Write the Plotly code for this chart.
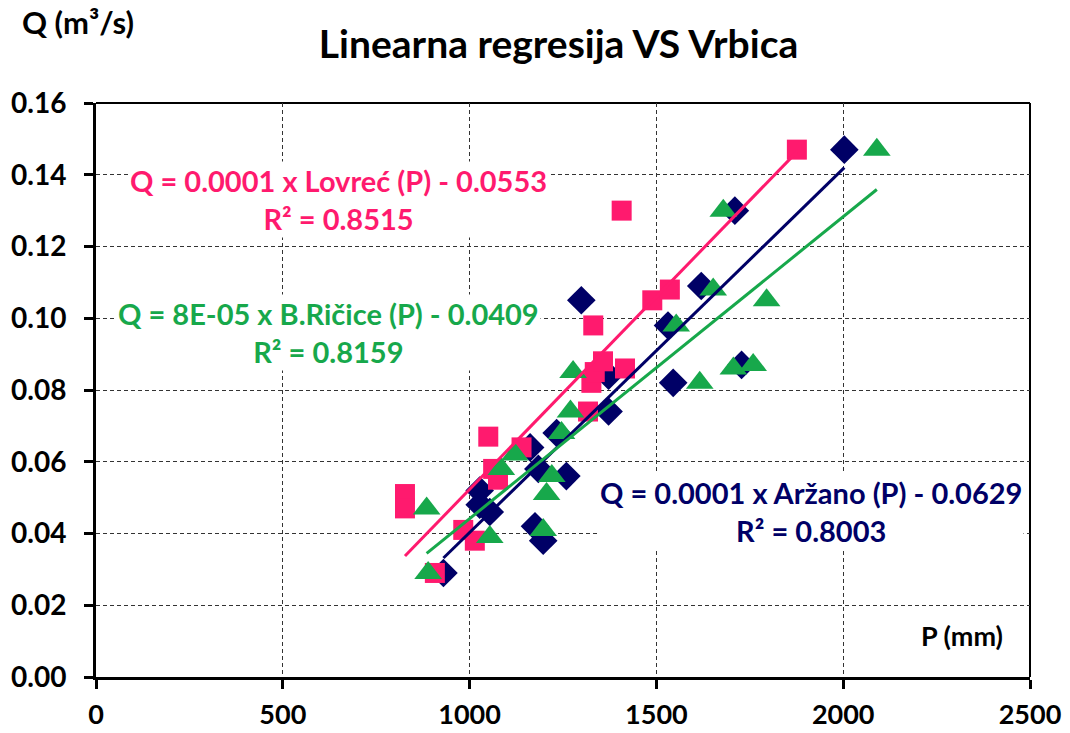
import numpy as np
import plotly.graph_objects as go

# Lovreć (pink squares)
lovrec_p = [827, 827, 907, 983, 1014, 1050, 1063, 1076, 1139, 1317, 1326, 1335, 1331, 1357, 1416, 1407, 1489, 1536, 1876]
lovrec_q = [0.051, 0.047, 0.029, 0.041, 0.038, 0.067, 0.058, 0.055, 0.064, 0.074, 0.082, 0.085, 0.098, 0.088, 0.086, 0.130, 0.105, 0.108, 0.147]
# Aržano (navy diamonds)
arzano_p = [930, 1027, 1027, 1054, 1162, 1175, 1197, 1184, 1233, 1259, 1299, 1372, 1372, 1531, 1545, 1620, 1710, 1728, 2003]
arzano_q = [0.029, 0.052, 0.048, 0.046, 0.064, 0.042, 0.038, 0.058, 0.068, 0.056, 0.105, 0.084, 0.074, 0.098, 0.082, 0.109, 0.130, 0.087, 0.147]
# B.Ričice (green triangles)
ricice_p = [889, 885, 1054, 1085, 1121, 1197, 1206, 1220, 1246, 1270, 1277, 1553, 1616, 1652, 1679, 1706, 1759, 1795, 2090]
ricice_q = [0.029, 0.047, 0.039, 0.058, 0.062, 0.041, 0.051, 0.056, 0.068, 0.074, 0.085, 0.098, 0.082, 0.108, 0.130, 0.086, 0.087, 0.105, 0.147]

x_ticks = [0, 500, 1000, 1500, 2000, 2500]
y_ticks = [0.00, 0.02, 0.04, 0.06, 0.08, 0.10, 0.12, 0.14, 0.16]

PINK = "#FF1A6E"
NAVY = "#000066"
GREEN = "#17A84B"
FONT = "Lato"

fig = go.Figure()

# markers: navy bottom, pink, green on top
fig.add_trace(go.Scatter(x=arzano_p, y=arzano_q, mode="markers",
                         marker=dict(symbol="diamond", size=22, color=NAVY, line=dict(width=0)), showlegend=False))
fig.add_trace(go.Scatter(x=lovrec_p, y=lovrec_q, mode="markers",
                         marker=dict(symbol="square", size=20, color=PINK, line=dict(width=0)), showlegend=False))
fig.add_trace(go.Scatter(x=ricice_p, y=ricice_q, mode="markers",
                         marker=dict(symbol="triangle-up", size=24, color=GREEN, line=dict(width=0)), showlegend=False))

# trendlines (least squares fits)
for px, qy, col in [(arzano_p, arzano_q, NAVY), (ricice_p, ricice_q, GREEN), (lovrec_p, lovrec_q, PINK)]:
    m, b = np.polyfit(px, qy, 1)
    xs = np.array([min(px), max(px)])
    fig.add_trace(go.Scatter(x=xs, y=m * xs + b, mode="lines",
                             line=dict(color=col, width=3), showlegend=False, hoverinfo="skip"))

fig.add_annotation(x=648, y=0.133, xref="x", yref="y", showarrow=False,
                   text="<b>Q = 0.0001 x Lovreć (P) - 0.0553<br>R² = 0.8515</b>",
                   font=dict(family=FONT, size=29, color=PINK), bgcolor="white", align="center")
fig.add_annotation(x=621, y=0.0959, xref="x", yref="y", showarrow=False,
                   text="<b>Q = 8E-05 x B.Ričice (P) - 0.0409<br>R² = 0.8159</b>",
                   font=dict(family=FONT, size=29, color=GREEN), bgcolor="white", align="center")
fig.add_annotation(x=1913, y=0.046, xref="x", yref="y", showarrow=False,
                   text="<b>Q = 0.0001 x Aržano (P) - 0.0629<br>R² = 0.8003</b>",
                   font=dict(family=FONT, size=29, color=NAVY), bgcolor="white", align="center")

# axis titles
fig.add_annotation(x=-76 / 934, y=1 + 81 / 574, xref="paper", yref="paper", showarrow=False,
                   text="<b>Q (m³/s)</b>", font=dict(family=FONT, size=31, color="black"),
                   xanchor="left", yanchor="middle")
fig.add_annotation(x=2433, y=0.0115, xref="x", yref="y", showarrow=False,
                   text="<b>P (mm)</b>", font=dict(family=FONT, size=27, color="black"),
                   xanchor="right", yanchor="middle")

fig.update_layout(
    width=1070, height=733,
    margin=dict(l=96, r=40, t=103, b=56),
    paper_bgcolor="white", plot_bgcolor="white",
    title=dict(text="<b>Linearna regresija VS Vrbica</b>", x=0.522, xanchor="center",
               y=1 - 44 / 733, yanchor="middle", font=dict(family=FONT, size=39, color="black")),
    font=dict(family=FONT, color="black"),
)

fig.update_xaxes(range=[0, 2500], tickvals=x_ticks, ticktext=[f"<b>{v}</b>" for v in x_ticks],
                 showgrid=True, gridcolor="#333333", griddash="4px,3px", gridwidth=1,
                 showline=True, linecolor="black", linewidth=3, mirror=False,
                 ticks="outside", ticklen=9, tickwidth=3, tickcolor="black",
                 tickfont=dict(family=FONT, size=27, color="black"), ticklabelstandoff=3,
                 zeroline=False, automargin=False)
fig.update_yaxes(range=[0, 0.16], tickvals=y_ticks, ticktext=[f"<b>{v:.2f}</b>" for v in y_ticks],
                 showgrid=True, gridcolor="#333333", griddash="4px,3px", gridwidth=1,
                 showline=True, linecolor="black", linewidth=3, mirror=False,
                 ticks="outside", ticklen=9, tickwidth=3, tickcolor="black",
                 tickfont=dict(family=FONT, size=28, color="black"), ticklabelstandoff=12,
                 zeroline=False, automargin=False)

# frame top/right
fig.add_shape(type="line", xref="paper", yref="paper", x0=0, x1=1, y0=1, y1=1,
              line=dict(color="black", width=2), layer="below")
fig.add_shape(type="line", xref="paper", yref="paper", x0=1, x1=1, y0=0, y1=1,
              line=dict(color="black", width=2), layer="below")

fig.write_html("out.html", config={"displayModeBar": False},
               post_script="document.body.style.margin='0';document.body.style.overflow='hidden';")
